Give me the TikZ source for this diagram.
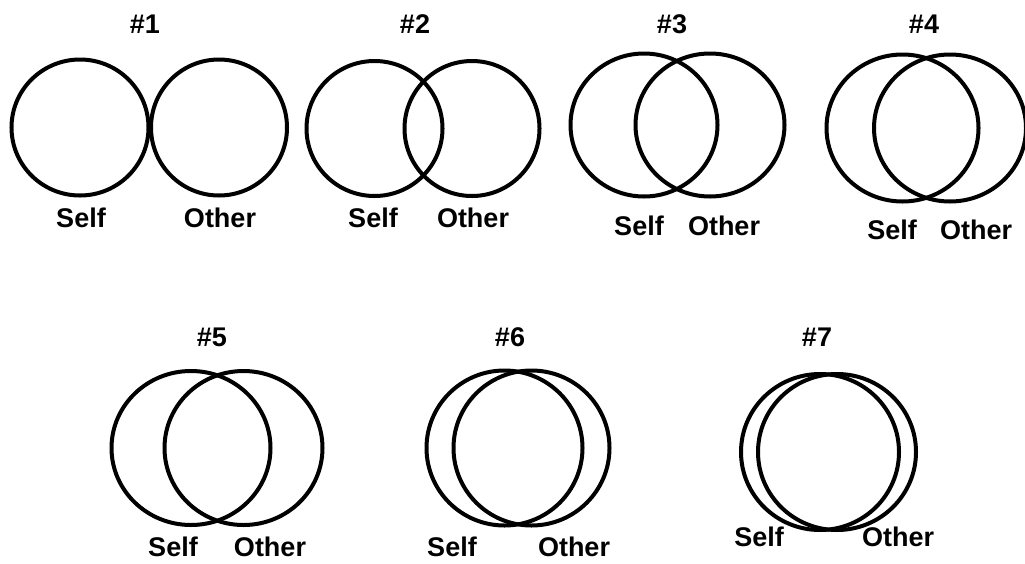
\documentclass[tikz,border=0pt]{standalone}
\usepackage{fontspec}
\setmainfont{Liberation Sans}
\begin{document}
\begin{tikzpicture}[x=1pt,y=-1pt,
  ring/.style={line width=4pt,draw=black},
  lbl/.style={inner sep=0pt,font=\fontsize{27}{30}\bfseries\selectfont},
  ttl/.style={inner sep=0pt,font=\fontsize{27}{30}\bfseries\selectfont}]
\useasboundingbox[fill=white] (0,0) rectangle (1025,563);
% #1
\draw[ring] (80,127.5) ellipse [x radius=68.5,y radius=68];
\draw[ring] (219,127.5) ellipse [x radius=68,y radius=68];
\node[ttl] (t1) at (145,24) {\#1};
\node[lbl] (s1) at (81,218) {Self};
\node[lbl] (o1) at (220,218) {Other};
% #2
\draw[ring] (374.5,128.5) ellipse [x radius=68,y radius=67.5];
\draw[ring] (472,128.5) ellipse [x radius=67.5,y radius=67.5];
\node[ttl] (t2) at (415,24) {\#2};
\node[lbl] (s2) at (373,218) {Self};
\node[lbl] (o2) at (473,218) {Other};
% #3
\draw[ring] (644,125) ellipse [x radius=73.5,y radius=71.5];
\draw[ring] (710,125) ellipse [x radius=74.5,y radius=71.5];
\node[ttl] (t3) at (672,24) {\#3};
\node[lbl] (s3) at (639,226) {Self};
\node[lbl] (o3) at (724,226) {Other};
% #4
\draw[ring] (902.5,128) ellipse [x radius=76,y radius=73.5];
\draw[ring] (950,128) ellipse [x radius=76,y radius=73.5];
\node[ttl] (t4) at (924,24) {\#4};
\node[lbl] (s4) at (892,230) {Self};
\node[lbl] (o4) at (976,230) {Other};
% #5
\draw[ring] (191,448) ellipse [x radius=79.5,y radius=77];
\draw[ring] (243.5,448) ellipse [x radius=79,y radius=77];
\node[ttl] (t5) at (212,337) {\#5};
\node[lbl] (s5) at (173,547) {Self};
\node[lbl] (o5) at (270,547) {Other};
% #6
\draw[ring] (504.5,448) ellipse [x radius=78,y radius=77.5];
\draw[ring] (531.5,448) ellipse [x radius=78,y radius=77.5];
\node[ttl] (t6) at (510,337) {\#6};
\node[lbl] (s6) at (452,547) {Self};
\node[lbl] (o6) at (574,547) {Other};
% #7
\draw[ring] (820,452) ellipse [x radius=79,y radius=78];
\draw[ring] (837,452) ellipse [x radius=79,y radius=78];
\node[ttl] (t7) at (817,337) {\#7};
\node[lbl] (s7) at (759,537) {Self};
\node[lbl] (o7) at (898,537) {Other};
\end{tikzpicture}
\end{document}
